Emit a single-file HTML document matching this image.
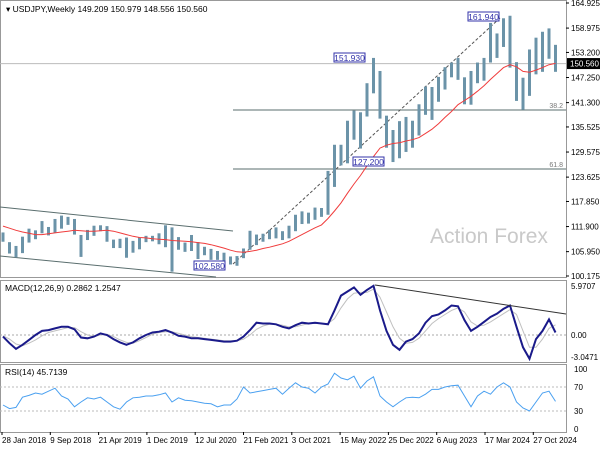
<!DOCTYPE html>
<html><head><meta charset="utf-8">
<style>
body{margin:0;background:#fff;}
svg{display:block;font-family:"Liberation Sans",sans-serif;}
</style></head>
<body>
<svg id="chart" width="600" height="450" viewBox="0 0 600 450" xmlns="http://www.w3.org/2000/svg">
<rect x="0" y="0" width="600" height="450" fill="#fff"/>
<g id="frames">
<rect x="0.5" y="0.5" width="566" height="277" fill="none" stroke="#999"/>
<rect x="0.5" y="280.5" width="566" height="82" fill="none" stroke="#999"/>
<rect x="0.5" y="364.5" width="566" height="68" fill="none" stroke="#999"/>
</g>
<text x="430" y="243" font-size="21" fill="#c9c9c9">Action Forex</text>
<g id="price"></g>
<g id="macd"></g>
<g id="rsi"></g>
<g id="axes"></g>
<text x="6" y="12" font-size="8.5" fill="#000">▾ USDJPY,Weekly  149.209 150.979 148.556 150.560</text>
<text x="5" y="291" font-size="8.5" fill="#000">MACD(12,26,9) 0.2862 1.2547</text>
<text x="5" y="375" font-size="8.5" fill="#000">RSI(14) 45.7139</text>
</svg>
<script>
const highs=[110.5,108.2,107.3,109.5,111.4,111.0,113.2,111.8,113.7,114.5,114.2,113.7,
109.9,111.1,112.1,112.2,112.0,108.8,109.0,109.3,108.5,109.3,109.7,109.7,
110.3,112.2,111.7,109.4,108.1,109.9,108.2,107.1,106.6,106.1,105.7,104.8,
104.9,106.7,110.9,110.0,110.2,111.1,111.7,110.8,112.1,114.7,115.5,115.2,
116.4,116.3,125.1,131.3,131.3,137.0,139.4,139.0,145.9,151.9,148.8,138.2,
134.8,136.9,137.9,137.0,140.9,145.1,145.0,147.4,149.7,150.8,151.9,147.3,
148.8,150.8,151.9,160.2,157.7,161.3,161.9,150.9,147.2,153.9,156.7,158.1,
158.9,155.0];
const lows=[108.3,105.5,104.6,105.6,108.1,108.9,110.3,109.8,110.4,111.4,112.3,110.0,
104.7,108.7,109.7,110.8,108.3,106.8,106.8,104.5,105.7,106.5,108.2,108.4,
107.7,107.0,101.2,106.4,105.9,106.1,104.2,105.1,104.0,104.0,103.2,102.9,
102.6,104.4,106.4,107.5,108.3,108.9,109.1,108.7,109.1,110.8,112.5,112.6,
113.5,114.2,114.7,121.3,126.4,126.9,132.5,130.4,138.0,143.5,137.5,130.6,
127.2,128.1,129.6,130.6,133.5,138.4,137.2,141.5,144.4,147.3,146.7,140.9,
140.8,145.9,146.5,150.8,151.9,154.5,149.6,141.7,139.6,142.9,148.0,148.6,
151.7,148.6];
const ma=[112.0,111.5,111.0,110.6,110.3,110.0,110.0,110.2,110.4,110.6,110.8,111.0,
110.9,110.8,110.8,110.9,111.0,110.8,110.4,110.0,109.6,109.3,109.2,109.0,
108.9,108.8,108.6,108.5,108.4,108.3,108.1,107.9,107.6,107.2,106.8,106.3,
105.9,105.8,106.0,106.3,106.7,107.0,107.4,107.8,108.4,109.2,110.0,110.8,
111.6,112.3,113.8,115.6,117.5,119.8,122.0,124.0,126.3,128.5,130.5,131.2,
131.6,131.8,132.2,132.5,133.0,134.0,135.0,136.3,137.8,139.2,140.8,141.8,
142.8,144.0,145.3,146.8,148.2,149.6,150.3,149.8,148.7,148.5,149.0,149.6,
150.3,150.6];
const macdVals=[-0.2,-1.0,-1.7,-1.2,-0.6,0.0,0.5,0.6,0.8,1.0,1.0,0.7,
-0.3,-0.4,-0.2,0.2,0.0,-0.5,-0.9,-1.2,-0.9,-0.4,0.0,0.3,
0.4,0.6,0.3,-0.1,-0.2,-0.4,-0.4,-0.5,-0.6,-0.7,-0.8,-0.8,
-0.7,-0.2,0.6,1.5,1.4,1.4,1.3,1.0,0.8,1.2,1.5,1.4,
1.5,1.4,1.3,3.0,4.8,5.3,5.8,4.9,5.5,6.0,3.0,0.5,
-1.2,-1.8,-0.8,-0.5,0.2,1.5,2.3,2.5,3.0,3.6,3.5,1.8,
0.5,1.0,1.6,2.2,2.6,3.2,3.6,1.0,-1.5,-2.9,-0.5,0.5,
1.9,0.3];
const signalVals=[-0.1,-0.5,-1.1,-1.3,-1.0,-0.6,-0.1,0.3,0.5,0.7,0.9,0.9,
0.4,0.0,-0.2,0.0,0.1,-0.2,-0.6,-0.9,-1.0,-0.7,-0.3,0.1,
0.3,0.4,0.4,0.2,0.0,-0.2,-0.3,-0.4,-0.5,-0.6,-0.7,-0.7,
-0.7,-0.5,0.0,0.7,1.1,1.3,1.3,1.2,1.0,1.0,1.2,1.4,
1.4,1.4,1.4,2.0,3.3,4.4,5.1,5.2,5.2,5.6,4.6,2.8,
1.0,-0.4,-1.0,-0.9,-0.4,0.5,1.4,2.0,2.5,3.0,3.3,2.8,
1.6,1.1,1.2,1.6,2.1,2.6,3.1,2.5,0.5,-1.5,-1.5,-0.5,
0.8,1.25];
const rsiVals=[40,34,36,53,56,60,58,63,68,55,50,37,
45,52,50,53,45,37,33,45,52,53,55,55,
57,60,45,52,48,47,45,43,42,37,40,40,
50,70,60,62,64,66,68,58,68,77,70,68,
60,70,75,93,85,82,88,68,80,87,55,45,
37,45,52,53,52,58,66,66,70,72,73,55,
37,55,63,58,70,77,70,45,35,30,45,60,
63,46];
const priceTicks=["164.925","158.975","153.200","147.250","141.300","135.525","129.575","123.625","117.850","111.900","105.950","100.175"];
const dateLabels=["28 Jan 2018","9 Sep 2018","21 Apr 2019","1 Dec 2019","12 Jul 2020","21 Feb 2021","3 Oct 2021","15 May 2022","25 Dec 2022","6 Aug 2023","17 Mar 2024","27 Oct 2024"];
const macdTicks=["5.9707","0.00","-3.0471"];
const rsiTicks=["100","70","30","0"];

const NS="http://www.w3.org/2000/svg";
function xM(m){return 3+m*6.5;}
function yP(p){return 3+(164.925-p)*4.216;}
function yMacd(v){return 335-v*8.2;}
function yRsi(r){return 429-r*0.6;}
function mk(tag,attrs,parent){const e=document.createElementNS(NS,tag);for(const k in attrs)e.setAttribute(k,attrs[k]);parent.appendChild(e);return e;}
const gP=document.getElementById('price'),gM=document.getElementById('macd'),gR=document.getElementById('rsi'),gA=document.getElementById('axes');

let l;
l=mk('line',{x1:0,y1:yP(150.56),x2:566,y2:yP(150.56),stroke:'#bbb','stroke-width':1},gP);

l=mk('line',{x1:233,y1:110,x2:566,y2:110,stroke:'#5a6e6e','stroke-width':1},gP);

l=mk('line',{x1:233,y1:169,x2:566,y2:169,stroke:'#5a6e6e','stroke-width':1},gP);

l=mk('line',{x1:0,y1:207,x2:233,y2:231,stroke:'#5a6e6e','stroke-width':1},gP);

l=mk('line',{x1:0,y1:256,x2:216,y2:277,stroke:'#5a6e6e','stroke-width':1},gP);

l=mk('line',{x1:233,y1:264,x2:500,y2:18,stroke:'#555','stroke-width':1,'stroke-dasharray':'3,2'},gP);

let t=mk('text',{x:563,y:108,'font-size':7,fill:'#777','text-anchor':'end'},gP);t.textContent='38.2';

t=mk('text',{x:563,y:167,'font-size':7,fill:'#777','text-anchor':'end'},gP);t.textContent='61.8';


for(let i=0;i<highs.length;i++){
  const b=mk('rect',{x:xM(i)-1.5,y:yP(highs[i]),width:3,height:Math.max(1,yP(lows[i])-yP(highs[i])),fill:'#6b93a8'},gP);
  
  
}
function poly(arr,fy,attrs,parent){let d='';arr.forEach((v,i)=>{d+=(i?'L':'M')+xM(i).toFixed(1)+' '+fy(v).toFixed(1);});attrs.d=d;attrs.fill='none';return mk('path',attrs,parent);}
l=poly(ma,yP,{stroke:'#f03c3c','stroke-width':1},gP);


const boxes=[[194,261,'102.580'],[353,157,'127.200'],[334,53,'151.930'],[468,12,'161.940']];
boxes.forEach(b=>{
  const r=mk('rect',{x:b[0],y:b[1],width:31,height:9,fill:'#fff',stroke:'#3333aa','stroke-width':1},gP);
  
  const tx=mk('text',{x:b[0]+15.5,y:b[1]+8,'font-size':8.5,fill:'#3333aa','text-anchor':'middle'},gP);tx.textContent=b[2];
  
});

l=mk('line',{x1:0,y1:yMacd(0),x2:566,y2:yMacd(0),stroke:'#aaa','stroke-dasharray':'2,2'},gM);

l=poly(signalVals,yMacd,{stroke:'#c0c0c0','stroke-width':1},gM);

l=poly(macdVals,yMacd,{stroke:'#1a1a8a','stroke-width':2},gM);

l=mk('line',{x1:375,y1:285,x2:566,y2:314,stroke:'#333','stroke-width':1},gM);


[70,30].forEach(v=>{const g=mk('line',{x1:0,y1:yRsi(v),x2:566,y2:yRsi(v),stroke:'#bbb','stroke-dasharray':'2,2'},gR);
});
l=poly(rsiVals,yRsi,{stroke:'#4aa0f0','stroke-width':1},gR);


const pv=[164.925,158.975,153.2,147.25,141.3,135.525,129.575,123.625,117.85,111.9,105.95,100.175];
priceTicks.forEach((s,i)=>{const tx=mk('text',{x:571,y:yP(pv[i])+3,'font-size':8,fill:'#000'},gA);tx.textContent=s;

mk('line',{x1:566,y1:yP(pv[i]),x2:569,y2:yP(pv[i]),stroke:'#000'},gA);});
const cb=mk('rect',{x:567,y:yP(150.56)-5.5,width:33,height:11,fill:'#000'},gA);

let ct=mk('text',{x:570,y:yP(150.56)+3,'font-size':8,fill:'#fff'},gA);ct.textContent='150.560';

const mv=[5.9707,0,-3.0471];
macdTicks.forEach((s,i)=>{const tx=mk('text',{x:571,y:yMacd(mv[i])+(i==2?0:3),'font-size':8,fill:'#000'},gA);tx.textContent=s;
});
const rv=[100,70,30,0];
rsiTicks.forEach((s,i)=>{const tx=mk('text',{x:574,y:yRsi(rv[i])+3,'font-size':8,fill:'#000'},gA);tx.textContent=s;
});
dateLabels.forEach((s,i)=>{const x=2+i*48.3;
mk('line',{x1:x,y1:432,x2:x,y2:435,stroke:'#000'},gA);
const tx=mk('text',{x:x,y:443,'font-size':8,fill:'#000'},gA);tx.textContent=s;
});
</script>
</body></html>
